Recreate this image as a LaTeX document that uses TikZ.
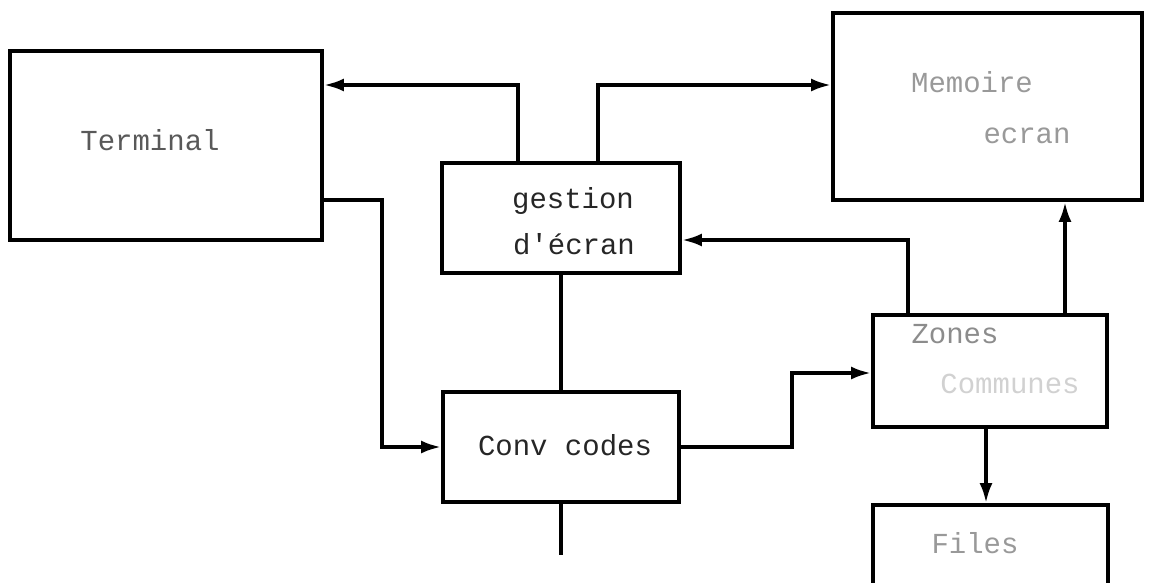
\documentclass[tikz,border=0pt]{standalone}
\usepackage{fontspec}
\setmonofont{Liberation Mono}
\usetikzlibrary{math, arrows.meta}
\tikzstyle{box} = [draw, line width=2.2pt, inner sep=0mm]
\tikzstyle{lbl} = [font=\ttfamily\fontsize{16.5}{19}\selectfont, inner sep=0mm, anchor=base]
\tikzstyle{wire} = [line width=2pt]
\tikzstyle{arr} = [wire, -{Latex[length=4mm,width=2.6mm]}]

\begin{document}
\begin{tikzpicture}[x=0.02cm, y=-0.02cm]
                \useasboundingbox (0,0) rectangle (1149,582);
                % boxes from their corners
                \foreach \name/\xa/\ya/\xb/\yb in {term/10/51/322/240, gest/442/163/680/273, mem/833/13/1142/200, conv/443/392/679/502, zones/873/315/1107/427, files/873/505/1108/610} {
                    \tikzmath{\w=(\xb-\xa)*0.02; \h=(\yb-\ya)*0.02; \cx=(\xa+\xb)/2; \cy=(\ya+\yb)/2;}
                    \node[box, minimum width=\w cm, minimum height=\h cm] (\name) at (\cx,\cy) {};
                }

                \node[lbl, black!65] (tTerm) at (150,150) {Terminal};
                \node[lbl, black!85] (tGest) at (573,208) {gestion};
                \node[lbl, black!85] (tEcr) at (574,254) {d'écran};
                \node[lbl, black!85] (tConv) at (565,455) {Conv codes};
                \node[lbl, black!40] (tMem) at (972,92) {Memoire};
                \node[lbl, black!40] (tMemb) at (1027,143) {ecran};
                \node[lbl, black!45] (tZon) at (955,343) {Zones};
                \node[lbl, black!18] (tCom) at (1010,393) {Communes};
                \node[lbl, black!40] (tFil) at (975,553) {Files};

                \draw[arr] (gest.north -| 518,0) |- (term.east |- 0,85);
                \draw[arr] (gest.north -| 598,0) |- (mem.west |- 0,85);
                \draw[arr] (term.east |- 0,200) -- (382,200) |- (conv.west);
                \draw[wire] (gest.south) -- (conv.north);
                \draw[arr] (conv.east) -- (792,447) |- (zones.west |- 0,373);
                \draw[arr] (zones.north -| 908,0) |- (gest.east |- 0,240);
                \draw[arr] (zones.north -| 1065,0) -- (mem.south -| 1065,0);
                \draw[arr] (zones.south -| 986,0) -- (files.north -| 986,0);

                \coordinate (bus) at (561,555);
                \draw[wire] (conv.south) -- (bus);
            \end{tikzpicture}
\end{document}
